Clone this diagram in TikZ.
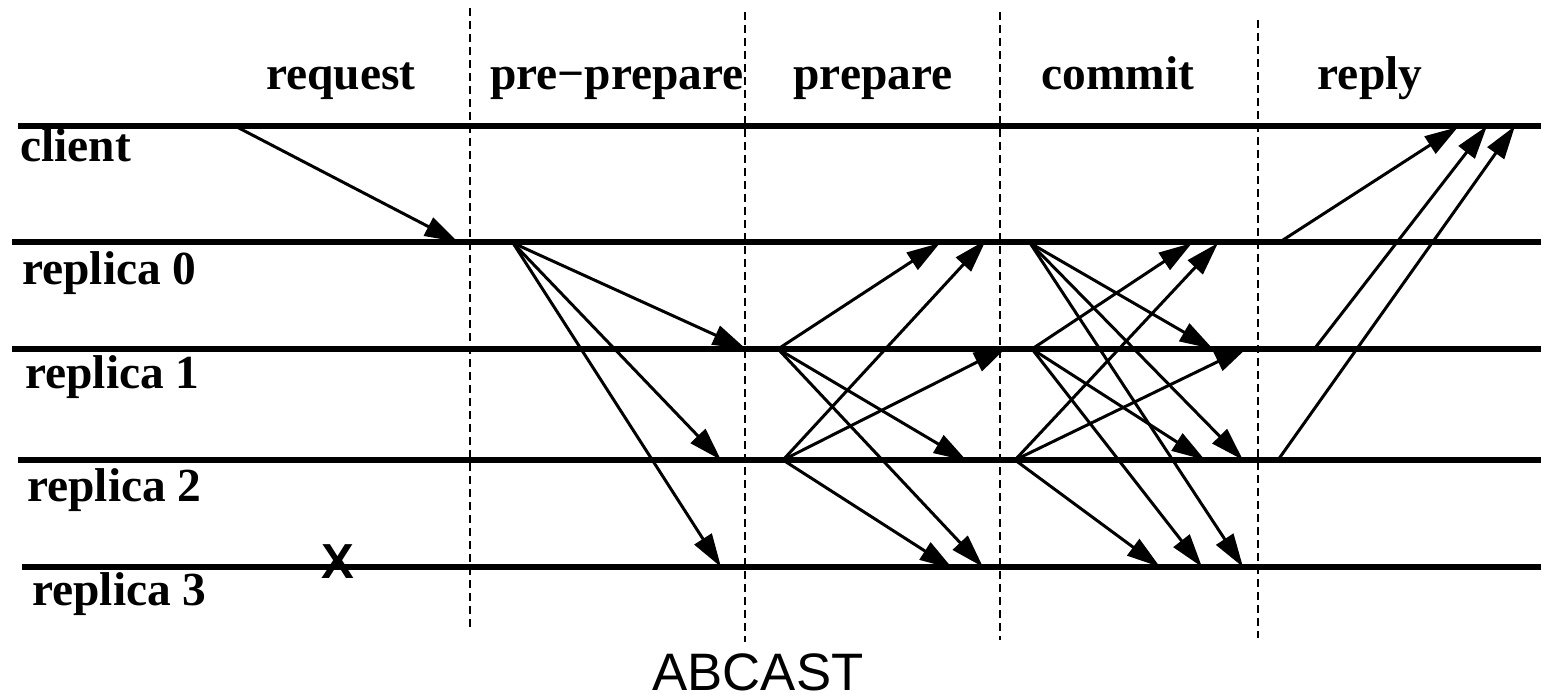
\documentclass[tikz,border=0pt]{standalone}
\usepackage{fontspec}
\setmainfont{Liberation Serif}
\newfontfamily\sansf{Liberation Sans}
\usetikzlibrary{arrows.meta}
\begin{document}
\begin{tikzpicture}[x=0.02cm,y=-0.02cm,
  timeline/.style={line width=3.4pt},
  phase/.style={line width=1.5pt, dash pattern=on 4.5pt off 2.9pt},
  msg/.style={line width=1.7pt, -{Triangle[length=19pt,width=11.5pt]}},
  lbl/.style={inner sep=0pt, anchor=base, font=\fontsize{27}{30}\selectfont\bfseries},
  procname/.style={inner sep=0pt, anchor=base west, font=\fontsize{27}{30}\selectfont\bfseries},
]
\useasboundingbox (0,0) rectangle (1541,699);

% timelines
\coordinate (cl-s) at (18,126);   \coordinate (cl-e) at (1541,126);
\coordinate (r0-s) at (12,242);   \coordinate (r0-e) at (1541,242);
\coordinate (r1-s) at (12,349);   \coordinate (r1-e) at (1541,349);
\coordinate (r2-s) at (18,460);   \coordinate (r2-e) at (1541,460);
\coordinate (r3-s) at (22,567);   \coordinate (r3-e) at (1541,567);
\draw[timeline] (cl-s) -- (cl-e);
\draw[timeline] (r0-s) -- (r0-e);
\draw[timeline] (r1-s) -- (r1-e);
\draw[timeline] (r2-s) -- (r2-e);
\draw[timeline] (r3-s) -- (r3-e);

% phase separators
\coordinate (d1-t) at (470,8);    \coordinate (d1-b) at (470,628);
\coordinate (d2-t) at (745,12);   \coordinate (d2-b) at (745,642);
\coordinate (d3-t) at (1000,12);  \coordinate (d3-b) at (1000,640);
\coordinate (d4-t) at (1258,20);  \coordinate (d4-b) at (1258,638);
\draw[phase] (d1-t) -- (d1-b);
\draw[phase] (d2-t) -- (d2-b);
\draw[phase] (d3-t) -- (d3-b);
\draw[phase] (d4-t) -- (d4-b);

% labels
\node[lbl] (Lreq) at (341,90) {request};
\node[lbl] (Lpp) at (617,90) {pre\char"2212 prepare};
\node[lbl] (Lprep) at (873,90) {prepare};
\node[lbl] (Lcom) at (1118,90) {commit};
\node[lbl] (Lrep) at (1370,90) {reply};

\node[procname] (Ncl) at (20,162) {client};
\node[procname] (N0) at (22,284) {replica 0};
\node[procname] (N1) at (25,388) {replica 1};
\node[procname] (N2) at (27,501) {replica 2};
\node[procname] (N3) at (32,605) {replica 3};

\node[inner sep=0pt, anchor=base, font=\sansf\bfseries\fontsize{28}{30}\selectfont] (fail) at (338,578) {X};

\node[inner sep=0pt, anchor=base, font=\sansf\fontsize{30}{34}\selectfont] (title) at (758,690) {ABCAST};

% request
\coordinate (req-s) at (235,126);
\coordinate (req-e) at (458,242);
\draw[msg] (req-s) -- (req-e);

% pre-prepare
\coordinate (pp0) at (513,243);
\coordinate (pp1) at (746,349);
\coordinate (pp2) at (721,460);
\coordinate (pp3) at (721,567);
\draw[msg] (pp0) -- (pp1);
\draw[msg] (pp0) -- (pp2);
\draw[msg] (pp0) -- (pp3);

% prepare
\coordinate (p1) at (778,349);
\coordinate (p2) at (783,460);
\coordinate (p1-0) at (940,243);
\coordinate (p1-2) at (967,461);
\coordinate (p1-3) at (983,567);
\coordinate (p2-0) at (986,240);
\coordinate (p2-1) at (1007,347);
\coordinate (p2-3) at (953,569);
\draw[msg] (p1) -- (p1-0);
\draw[msg] (p1) -- (p1-2);
\draw[msg] (p1) -- (p1-3);
\draw[msg] (p2) -- (p2-0);
\draw[msg] (p2) -- (p2-1);
\draw[msg] (p2) -- (p2-3);

% commit
\coordinate (c0) at (1030,243);
\coordinate (c1) at (1032,349);
\coordinate (c2) at (1015,460);
\coordinate (c0-1) at (1213,349);
\coordinate (c0-2) at (1243,460);
\coordinate (c0-3) at (1243,567);
\coordinate (c1-0) at (1192,243);
\coordinate (c1-2) at (1205,460);
\coordinate (c1-3) at (1202,567);
\coordinate (c2-0) at (1218,243);
\coordinate (c2-1) at (1248,347);
\coordinate (c2-3) at (1160,567);
\draw[msg] (c0) -- (c0-1);
\draw[msg] (c0) -- (c0-2);
\draw[msg] (c0) -- (c0-3);
\draw[msg] (c1) -- (c1-0);
\draw[msg] (c1) -- (c1-2);
\draw[msg] (c1) -- (c1-3);
\draw[msg] (c2) -- (c2-0);
\draw[msg] (c2) -- (c2-1);
\draw[msg] (c2) -- (c2-3);

% reply
\coordinate (y0) at (1283,240);
\coordinate (y1) at (1315,348);
\coordinate (y2) at (1278,460);
\coordinate (y0-c) at (1458,127);
\coordinate (y1-c) at (1487,126);
\coordinate (y2-c) at (1515,126);
\draw[msg] (y0) -- (y0-c);
\draw[msg] (y1) -- (y1-c);
\draw[msg] (y2) -- (y2-c);
\end{tikzpicture}
\end{document}
